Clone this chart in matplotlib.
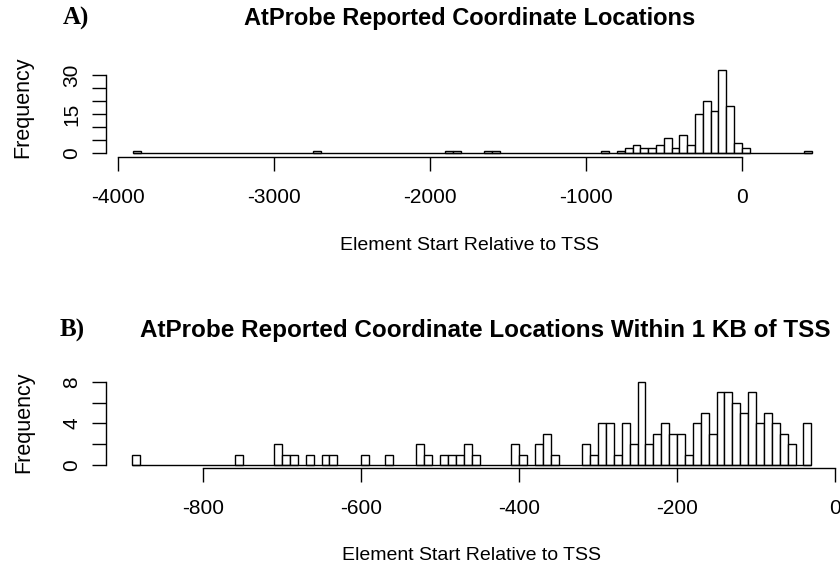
import numpy as np
import matplotlib
matplotlib.use('Agg')
import matplotlib.pyplot as plt

# Panel A: 50-wide bins (start of bin, count), zero bins left out
a_bin_width = 50
a_bin_starts = [-3900, -2750, -1900, -1850, -1650, -1600, -900, -800, -750,
                -700, -650, -600, -550, -500, -450, -400, -350, -300, -250,
                -200, -150, -100, -50, 0, 400]
a_counts = [1, 1, 1, 1, 1, 1, 1, 1, 2,
            3, 2, 2, 3, 6, 2, 7, 3, 15, 20,
            16, 32, 18, 4, 2, 1]
a_xticks = [-4000, -3000, -2000, -1000, 0]
a_yticks = [0, 5, 10, 15, 20, 25, 30]
a_ylabels = ['0', '', '', '15', '', '', '30']

# Panel B: 10-wide bins within 1 KB of the TSS
b_bin_width = 10
b_bin_starts = [-890, -760, -710, -700, -690, -670, -650, -640, -600, -570,
                -530, -520, -500, -490, -480, -470, -460, -410, -400, -380,
                -370, -360, -320, -310, -300, -290, -280, -270, -260, -250,
                -240, -230, -220, -210, -200, -190, -180, -170, -160, -150,
                -140, -130, -120, -110, -100, -90, -80, -70, -60, -40]
b_counts = [1, 1, 2, 1, 1, 1, 1, 1, 1, 1,
            2, 1, 1, 1, 1, 2, 1, 2, 1, 2,
            3, 1, 2, 1, 4, 4, 1, 4, 2, 8,
            2, 3, 4, 3, 3, 1, 4, 5, 3, 7,
            7, 6, 5, 7, 4, 5, 4, 3, 2, 4]
b_xticks = [-800, -600, -400, -200, 0]
b_yticks = [0, 2, 4, 6, 8]
b_ylabels = ['0', '', '4', '', '8']

W, H = 840, 569
fig = plt.figure(figsize=(W / 100, H / 100), dpi=100)

sans = ['Liberation Sans', 'DejaVu Sans']
serif = ['Liberation Serif', 'DejaVu Serif']
lab_size = 14
tick_size = 15
lw = 1.0


def box(left, top, right, bottom):
    return [left / W, 1 - bottom / H, (right - left) / W, (bottom - top) / H]


def ftext(x, y, s, **kw):
    fig.text(x / W, 1 - y / H, s, ha='center', va='center', **kw)


def panel(rect, starts, counts, width, xlim, ylim, spine_y, xticks, yticks, ylabels):
    ax = fig.add_axes(rect)
    ax.bar(starts, counts, width=width, align='edge', facecolor='white',
           edgecolor='black', linewidth=lw)
    # R draws empty bins as flat boxes -> a baseline across the data range
    ax.hlines(0, starts[0], starts[-1] + width, color='black', linewidth=lw)
    ax.set_xlim(*xlim)
    ax.set_ylim(*ylim)
    for s in ['top', 'right']:
        ax.spines[s].set_visible(False)
    ax.spines['bottom'].set_position(('data', spine_y))
    ax.spines['bottom'].set_bounds(xticks[0], xticks[-1])
    ax.spines['left'].set_bounds(yticks[0], yticks[-1])
    for s in ['bottom', 'left']:
        ax.spines[s].set_linewidth(lw)
    ax.set_xticks(xticks)
    ax.set_xticklabels([str(t) for t in xticks], family=sans, fontsize=tick_size)
    ax.set_yticks(yticks)
    ax.set_yticklabels(ylabels, family=sans, fontsize=tick_size, rotation=90,
                       va='center')
    ax.tick_params(axis='x', length=9.8, width=lw, pad=12.5)
    ax.tick_params(axis='y', length=9.8, width=lw, pad=8)
    ax.patch.set_visible(False)
    return ax


# Panel A (pixel anchors: -4000 -> 117.7px, 0 -> 741.7px, y 0 -> 153.3px, 30 -> 75px)
panel(box(106, 60, 830, 175), a_bin_starts, a_counts, a_bin_width,
      (-4075, 566), (-8.3, 35.7), -1.3, a_xticks, a_yticks, a_ylabels)

# Panel B (pixel anchors: -800 -> 203.3px, 0 -> 835px, y 0 -> 465px, 8 -> 381.7px)
panel(box(106, 370, 840, 480), b_bin_starts, b_counts, b_bin_width,
      (-922.8, 6.3), (-1.44, 9.13), -0.32, b_xticks, b_yticks, b_ylabels)

# titles and labels
ftext(76, 18, 'A)', family=serif, fontsize=18, fontweight='bold')
ftext(470, 19, 'AtProbe Reported Coordinate Locations', family=sans,
      fontsize=17, fontweight='bold')
ftext(72, 330, 'B)', family=serif, fontsize=18, fontweight='bold')
ftext(485, 330, 'AtProbe Reported Coordinate Locations Within 1 KB of TSS',
      family=sans, fontsize=17.5, fontweight='bold')
ftext(469, 245, 'Element Start Relative to TSS', family=sans, fontsize=lab_size)
ftext(471, 556, 'Element Start Relative to TSS', family=sans, fontsize=lab_size)
ftext(23, 107, 'Frequency', family=sans, fontsize=15.5, rotation=90)
ftext(24, 422, 'Frequency', family=sans, fontsize=15.5, rotation=90)

fig.savefig('out.png', dpi=100, facecolor='white')
